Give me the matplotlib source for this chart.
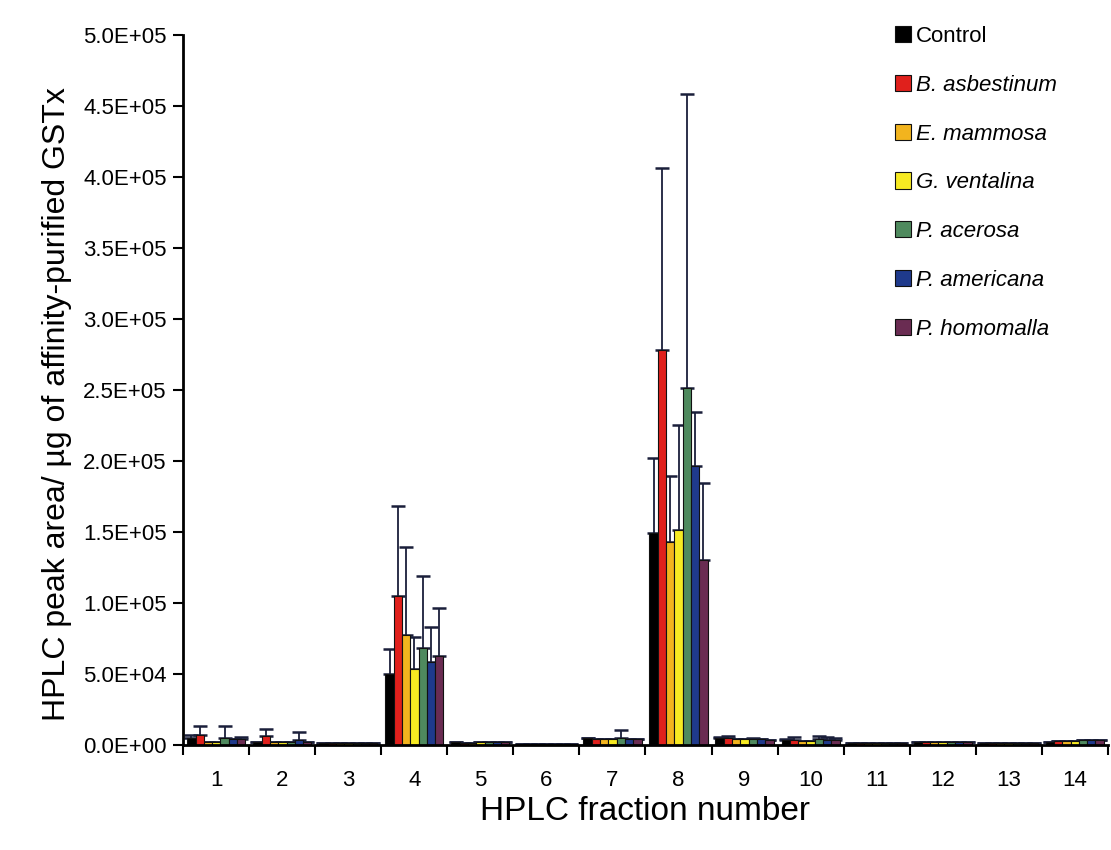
import matplotlib.pyplot as plt
import numpy as np
from matplotlib.ticker import FuncFormatter

plt.rcParams['font.family'] = ['Liberation Sans', 'DejaVu Sans']

fractions = [str(i) for i in range(1, 15)]
series = ["Control", "B. asbestinum", "E. mammosa", "G. ventalina",
          "P. acerosa", "P. americana", "P. homomalla"]
colors = ["#000000", "#e0201c", "#f2b41e", "#f7ea22", "#4f8a5e", "#1f3a8c", "#6a2c52"]

control = [5000, 2000, 800, 50000, 1500, 500, 5000, 149000, 4500, 3000, 1000, 1500, 1000, 2000]
b_asb = [7000, 6000, 800, 105000, 1000, 500, 4000, 278000, 5000, 3000, 1000, 1500, 1000, 2500]
e_mam = [1500, 2000, 800, 77500, 1000, 500, 4000, 143000, 4000, 2500, 800, 1500, 1000, 2500]
g_ven = [1500, 2000, 800, 53000, 1500, 500, 4000, 151000, 4000, 2500, 800, 1500, 1000, 2500]
p_ace = [5000, 1500, 800, 68000, 1500, 500, 5000, 251000, 4000, 4000, 800, 2000, 1000, 3000]
p_ame = [4000, 3500, 800, 58500, 1500, 500, 4000, 196000, 4000, 3500, 800, 2000, 1000, 3500]
p_hom = [4000, 1500, 800, 62700, 1500, 500, 4000, 130000, 3500, 3500, 800, 2000, 1000, 3000]

control_err = [1500, 0, 0, 17600, 0, 0, 0, 53000, 1000, 1000, 0, 0, 0, 0]
b_asb_err = [6000, 5000, 0, 63000, 0, 0, 0, 128000, 1000, 2500, 0, 0, 0, 0]
e_mam_err = [0, 0, 0, 61500, 0, 0, 0, 46000, 0, 0, 0, 0, 0, 0]
g_ven_err = [0, 0, 0, 23000, 0, 0, 0, 74000, 0, 0, 0, 0, 0, 0]
p_ace_err = [8000, 0, 0, 51000, 0, 0, 5000, 207000, 1000, 2000, 0, 0, 0, 0]
p_ame_err = [0, 5500, 0, 24500, 0, 0, 0, 38000, 0, 2000, 0, 0, 0, 0]
p_hom_err = [1500, 0, 0, 33800, 0, 0, 0, 54000, 0, 1500, 0, 0, 0, 0]

values = [control, b_asb, e_mam, g_ven, p_ace, p_ame, p_hom]
errors = [control_err, b_asb_err, e_mam_err, g_ven_err, p_ace_err, p_ame_err, p_hom_err]

fig = plt.figure(figsize=(11.11, 8.5), dpi=100)
ax = fig.add_axes([0.165, 0.124, 0.832, 0.835])

x = np.arange(1, len(fractions) + 1)
n = len(series)
w = 0.88 / n
for i in range(n):
    pos = x - 0.44 + w * (i + 0.5)
    err = np.array(errors[i])
    ax.bar(pos, values[i], width=w, color=colors[i], edgecolor="#111111",
           linewidth=0.8, label=series[i], zorder=2)
    ax.errorbar(pos, values[i], yerr=[np.zeros(len(err)), err], fmt="none",
                ecolor="#1a1f3a", elinewidth=1.3, capsize=5, capthick=1.8, zorder=1)

ax.set_xlim(0.5, 14.5)
ax.set_ylim(0, 5.0e5)
ax.set_yticks(np.arange(0, 5.01e5, 5e4))
ax.yaxis.set_major_formatter(FuncFormatter(lambda v, p: f"{v:.1E}"))
ax.set_xticks(np.arange(0.5, 15, 1))
ax.set_xticklabels([])
ax.set_xticks(x, minor=True)
ax.set_xticklabels(fractions, minor=True)
ax.tick_params(axis="x", which="minor", length=0, labelsize=16, pad=18)
ax.tick_params(axis="x", which="major", length=7, width=1.5, direction="out")
ax.tick_params(axis="y", length=7, width=1.5, direction="out", labelsize=16, pad=5)
for s in ["top", "right"]:
    ax.spines[s].set_visible(False)
for s in ["left", "bottom"]:
    ax.spines[s].set_linewidth(2)

ax.set_ylabel("HPLC peak area/ µg of affinity-purified GSTx", fontsize=23)
ax.yaxis.set_label_coords(-0.12, 0.48)
ax.set_xlabel("HPLC fraction number", fontsize=24, labelpad=4)

leg = ax.legend(loc="upper left", bbox_to_anchor=(0.76, 1.025), frameon=False,
                fontsize=16, handlelength=0.75, handleheight=0.75, handletextpad=0.2,
                labelspacing=1.25, borderaxespad=0)
for t in leg.get_texts()[1:]:
    t.set_style("italic")

fig.savefig("out.png", dpi=100)
